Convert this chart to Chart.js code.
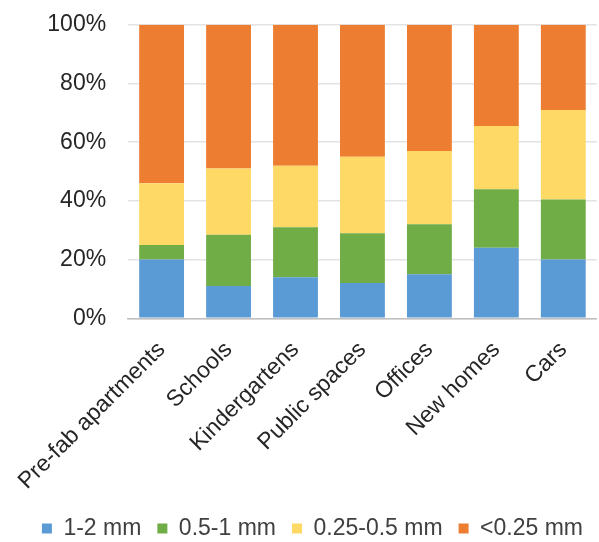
<!DOCTYPE html>
<html>
<head>
<meta charset="utf-8">
<script src="https://cdn.jsdelivr.net/npm/chart.js@4/dist/chart.umd.min.js"></script>
<style>
  html, body { margin: 0; padding: 0; background: #fff; overflow: hidden; }
  #wrap { width: 599px; height: 561px; margin-top: -11px; }
</style>
</head>
<body>
<div id="wrap"><canvas id="chart"></canvas></div>
<script>
const categories = ['Pre-fab apartments', 'Schools', 'Kindergartens', 'Public spaces', 'Offices', 'New homes', 'Cars'];
const size1to2 = [20, 11, 14, 12, 15, 24, 20];
const size05to1 = [5, 17.5, 17, 17, 17, 20, 20.5];
const size025to05 = [21, 22.5, 21, 26, 25, 21.5, 30.5];
const sizeBelow025 = [54, 49, 48, 45, 43, 34.5, 29];
const yTicks = [0, 20, 40, 60, 80, 100];

const font = "'Liberation Sans', Arial, sans-serif";

function series(label, data, color) {
    return {
        label: label,
        data: data,
        backgroundColor: color,
        borderWidth: 0,
        categoryPercentage: 1,
        barPercentage: 0.67
    };
}

const ctx = document.getElementById('chart').getContext('2d');

new Chart(ctx, {
    type: 'bar',
    data: {
        labels: categories,
        datasets: [
            series('1-2 mm', size1to2, '#5b9bd5'),
            series('0.5-1 mm', size05to1, '#70ad47'),
            series('0.25-0.5 mm', size025to05, '#ffd966'),
            series('<0.25 mm', sizeBelow025, '#ed7d31')
        ]
    },
    options: {
        responsive: true,
        maintainAspectRatio: false,
        animation: false,
        layout: { padding: { left: 0, right: 0, top: 0, bottom: 0 } },
        plugins: {
            tooltip: { enabled: false },
            legend: {
                position: 'bottom',
                align: 'end',
                labels: {
                    font: { family: font, size: 23 },
                    color: '#404040',
                    boxWidth: 10,
                    boxHeight: 10,
                    padding: 16
                }
            }
        },
        scales: {
            x: {
                stacked: true,
                grid: { display: false, drawTicks: false },
                border: { color: '#bfbfbf', width: 1.5 },
                afterFit: s => {
                    s.height -= 12;
                    s.paddingLeft -= 3;
                },
                ticks: {
                    autoSkip: false,
                    maxRotation: 45,
                    minRotation: 45,
                    padding: 18,
                    color: '#262626',
                    font: { family: font, size: 23 }
                }
            },
            y: {
                stacked: true,
                min: 0,
                max: 100,
                afterBuildTicks: axis => { axis.ticks = yTicks.map(v => ({ value: v })); },
                grid: { color: '#e3e3e3', lineWidth: 1.5, drawTicks: false },
                border: { display: false },
                ticks: {
                    padding: 22,
                    color: '#262626',
                    font: { family: font, size: 23 },
                    callback: v => v + '%'
                }
            }
        }
    }
});
</script>
</body>
</html>
